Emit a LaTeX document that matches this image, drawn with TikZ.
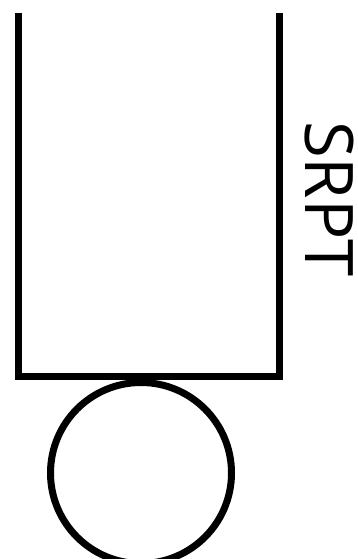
\documentclass[tikz,border=0pt]{standalone}
\usepackage{fontspec}
\setsansfont{Open Sans}
\usetikzlibrary{positioning}
\tikzset{
    font=\sffamily,
    % Shapes
    wall/.style={line width=7pt, line join=miter},
    ball/.style={circle, draw, line width=7pt, minimum size=181pt, inner sep=0pt},
    lbl/.style={font=\sffamily\fontsize{67}{67}\selectfont, rotate=-90, inner sep=0pt}
}
\begin{document}
\begin{tikzpicture}[x=1pt, y=-1pt]
\useasboundingbox (0,0) rectangle (357,559);

% bucket
\coordinate (tl) at (18,13);
\coordinate (bl) at (18,376);
\coordinate (br) at (279,376);
\coordinate (tr) at (279,13);
\draw[wall] (tl) -- (bl) -- (br) -- (tr);

\node[ball] (job) at (141,473) {};
\node[lbl] (name) at (329,199) {SRPT};

\end{tikzpicture}
\end{document}
